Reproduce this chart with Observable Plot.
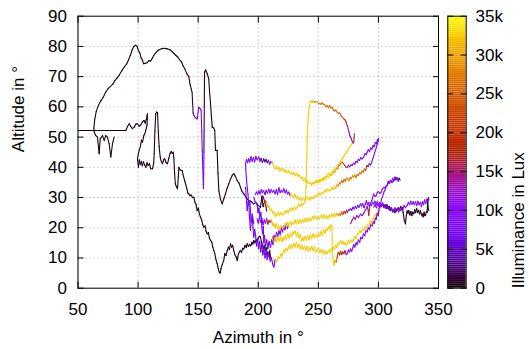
<!DOCTYPE html>
<html>
<head>
<meta charset="utf-8">
<script src="https://cdn.jsdelivr.net/npm/d3@7"></script>
<script src="https://cdn.jsdelivr.net/npm/@observablehq/plot@0.6"></script>
<style>
  html, body { margin: 0; padding: 0; background: white; }
  #chart { position: relative; width: 529px; height: 349px; }
  #chart svg { position: absolute; left: 0; top: 0; }
</style>
</head>
<body>
<div id="chart"></div>
<script>
// ---- tick labels ----
const xTicks = [50, 100, 150, 200, 250, 300, 350];
const yTicks = [0, 10, 20, 30, 40, 50, 60, 70, 80, 90];
const cbTicks = [0, 5000, 10000, 15000, 20000, 25000, 30000, 35000];
const xLabel = "Azimuth in °";
const yLabel = "Altitude in °";
const cbLabel = "Illuminance in Lux";

// ---- tracks: [azimuth, altitude, illuminance] ----
const trackArc = [
[80.1,50.0,400],[78.7,47.8,400],[77.3,43.4,400],[75.9,47.8,400],[74.5,50.0,400],[73.1,50.5,400],[71.8,48.9,400],[70.4,50.5,400],[68.5,49.4,400],[67.6,44.5,400],[66.2,50.0,400],[64.8,50.5,400],[63.5,51.6,400],[63.2,53.0,400],[64.0,56.0,400],[65.2,58.5,400],[67.0,60.5,400],[69.0,62.0,400],[71.0,63.2,400],[73.0,64.8,400],[75.0,66.0,400],[77.0,66.8,400],[79.0,67.5,400],[80.5,68.6,400],[82.6,69.6,400],[84.5,70.6,400],[86.5,72.0,400],[88.5,73.2,400],[90.5,74.2,400],[92.0,75.5,400],[93.5,77.0,400],[95.0,78.8,400],[96.4,80.0,400],[98.0,80.4,400],[99.2,80.0,400],[100.3,78.6,400],[101.5,77.8,400],[102.5,76.2,400],[103.6,75.5,400],[104.5,74.3,400],[106.0,74.4,400],[107.6,74.6,400],[109.0,75.3,400],[110.5,75.2,400],[111.7,76.0,400],[113.0,77.0,400],[114.5,77.8,400],[115.9,78.4,400],[117.5,78.9,400],[119.5,79.2,400],[121.5,79.4,400],[124.2,79.2,400],[126.5,78.9,400],[128.5,78.2,400],[130.0,77.6,400],[131.5,77.0,500],[133.0,76.5,500],[134.5,75.6,500],[136.0,75.0,500],[137.5,73.5,600],[139.0,72.5,700],[140.5,71.0,800],[142.2,70.0,900],[143.2,67.5,1000],[144.2,66.0,1200],[145.0,64.6,1500],[145.4,61.0,2000],[145.8,58.0,3000],[146.4,57.2,5000],[147.5,56.5,7000],[149.2,56.0,8000],[150.5,59.9,8000],[151.5,59.5,8000],[152.5,58.8,8000],[153.0,52.0,8000],[153.4,45.5,8000],[154.0,38.0,8000],[154.4,33.0,7500],[154.8,45.0,2000],[155.1,60.0,800],[155.3,71.5,500],[156.3,72.2,500],[157.5,71.0,500],[158.8,69.3,500],[159.5,65.0,500],[160.3,61.0,500],[161.0,57.0,500],[161.7,53.3,500],[163.0,53.0,500],[163.8,52.2,500],[164.4,45.6,500],[165.8,45.6,500],[166.5,38.0,500],[167.2,32.3,500],[168.5,29.5,500],[170.0,27.9,500],[171.3,29.5,500],[172.7,31.2,500],[174.0,33.0,500],[175.5,34.5,500],[176.8,36.0,500],[178.3,37.3,500],[179.7,37.9,500],[181.0,37.0,500],[182.5,35.6,500],[184.0,34.8,500],[185.2,33.4,500],[186.5,32.0,500],[188.0,31.2,500],[190.0,30.0,500],[192.1,29.0,500],[194.0,28.7,500],[196.3,27.9,500],[198.0,28.4,600],[199.5,27.5,700],[201.9,26.8,800],[203.0,30.5,1000],[204.0,27.0,1500],[205.5,29.0,1800],[207.0,25.5,2000]
];

const trackLow = [
[50.0,52.2,500],[89.8,52.2,500],[91.2,53.5,500],[92.6,54.4,500],[93.8,53.6,500],[95.2,52.8,500],[96.8,53.3,500],[98.2,54.3,500],[99.5,54.4,500],[100.8,53.6,500],[102.2,54.0,500],[103.5,55.0,500],[105.0,55.5,500],[106.0,54.6,500],[106.8,55.8,500],[107.8,57.7,500],[107.5,54.0,500],[106.4,52.2,500],[105.5,51.0,500],[104.8,50.6,500],[103.7,48.3,500],[102.8,49.0,500],[102.0,47.0,500],[100.9,45.6,500],[100.0,44.0,500],[99.5,42.8,500],[100.3,40.0,500],[101.0,42.5,500],[101.8,41.0,500],[102.8,42.0,500],[103.5,40.5,500],[104.5,41.8,500],[105.4,40.8,500],[106.4,40.0,500],[107.4,41.5,500],[108.4,40.6,500],[109.5,41.2,500],[110.5,39.5,500],[112.0,39.5,500],[113.0,41.5,500],[113.4,44.5,500],[114.0,52.0,500],[114.7,57.7,500],[115.5,58.3,500],[116.2,58.0,500],[116.8,52.0,500],[117.5,47.0,500],[118.4,43.4,500],[119.3,42.0,500],[120.3,41.2,500],[121.3,42.5,500],[122.2,42.8,500],[123.3,41.5,500],[124.5,41.2,500],[125.6,43.0,500],[126.5,44.5,500],[127.5,45.2,500],[128.5,44.6,500],[129.2,45.0,500],[129.7,43.4,500],[130.4,38.0,500],[131.0,34.5,500],[132.0,33.5,500],[132.8,32.9,500],[133.5,37.0,500],[133.9,40.0,500],[135.0,39.2,500],[136.7,38.9,500],[137.8,37.0,500],[139.0,35.2,500],[139.5,34.5,500],[140.5,33.0,500],[141.4,31.5,500],[142.2,31.2,500],[143.2,30.6,500],[144.2,30.8,500],[145.2,30.0,500],[146.4,30.1,500],[147.3,28.5,500],[148.2,27.8,500],[149.2,25.7,500],[150.2,26.5,500],[151.0,24.5,500],[152.0,23.5,500],[153.0,22.5,500],[153.8,21.0,500],[154.7,20.2,500],[155.8,20.6,500],[156.6,18.8,500],[157.5,18.0,500],[158.5,18.4,500],[159.4,16.5,500],[160.3,15.8,500],[161.3,15.3,500],[162.2,13.5,500],[163.0,12.5,500],[163.8,11.5,500],[164.8,9.5,500],[165.8,8.1,500],[166.7,6.5,500],[167.5,5.3,500],[168.3,5.0,500],[169.0,6.5,500],[170.0,7.8,500],[171.3,9.2,500],[172.2,11.5,500],[173.2,10.8,500],[174.2,12.5,500],[175.2,13.6,500],[176.0,12.8,500],[176.9,14.7,500],[177.8,13.6,500],[178.7,14.2,500],[179.6,12.5,500],[180.6,11.0,500],[181.5,10.5,500],[182.5,9.2,500],[183.4,11.2,500],[184.3,12.0,500],[185.2,12.5,500],[186.1,11.8,500],[187.0,13.2,500],[188.0,13.0,500],[189.0,14.2,500],[190.0,13.5,500],[190.8,14.7,500],[191.8,13.8,500],[192.8,14.5,500],[193.8,14.0,500],[194.8,15.2,500],[195.5,14.6,500],[196.3,15.8,500],[197.3,15.0,500],[198.2,16.0,600],[199.0,15.5,700],[200.0,16.5,800],[201.0,17.2,900],[201.9,16.9,1000],[202.8,15.0,1200],[203.5,14.5,1500],[204.3,13.0,1500],[205.0,14.2,1200],[205.8,12.5,1000],[206.5,13.5,1000],[207.3,11.0,1200],[208.0,12.0,1500],[209.0,10.5,2000],[209.5,12.5,2500],[210.3,10.2,3000],[211.0,9.7,3000]
];

const trackM7 = [
[189.4,33.4,8000],[190.0,30.0,8000],[190.8,25.7,8000],[191.4,28.5,8000],[192.1,29.0,8000],[192.6,24.0,8000],[193.5,19.1,8000],[194.2,22.0,8000],[195.0,23.5,8000],[195.6,20.0,8000],[196.3,16.9,8000],[197.0,19.5,7000],[197.8,17.5,7000],[198.6,14.0,7000],[199.5,16.5,6000],[200.3,13.0,6000],[201.2,15.5,5000],[202.0,12.0,5000],[203.0,14.5,6000],[203.8,11.0,7000],[204.8,13.0,8000],[205.6,10.0,8000],[206.5,12.5,8000],[207.4,9.5,8000],[208.2,11.0,8000]
];

const trackM8 = [
[196.3,30.1,7000],[197.5,28.5,7000],[199.0,27.9,7000],[199.8,25.0,7000],[200.6,26.5,7000],[201.4,23.5,7000],[202.2,25.0,8000],[203.0,20.0,8000],[203.6,18.0,8000],[204.2,20.5,8000],[204.6,15.0,8000],[205.2,17.5,8000],[206.0,14.0,7000],[207.0,16.0,6000],[208.0,13.0,5000],[209.0,15.5,6000],[210.2,13.5,8000],[211.2,16.0,8000],[212.2,14.5,9000],[213.2,17.5,9000],[214.2,16.0,9000],[215.2,18.5,9000],[216.2,17.0,9000],[217.2,19.0,9000],[218.2,17.8,9000],[219.2,20.0,9000],[220.2,18.6,9000],[221.3,20.6,9000],[222.3,19.4,9000],[223.3,21.2,9000],[224.3,19.8,9000],[225.3,21.0,9000]
];

const trackM3 = [
[197.5,31.0,9000],[198.5,31.8,9000],[199.5,31.0,9000],[200.5,32.2,9000],[201.5,31.2,9000],[202.5,32.6,9000],[203.5,31.6,9000],[204.5,32.3,9000],[205.6,31.0,9000],[206.6,32.4,9000],[207.6,31.4,9000],[208.7,32.8,9000],[209.8,31.5,9000],[210.8,32.6,9000],[211.9,31.8,9000],[213.0,32.3,9000],[214.0,31.2,9000],[215.0,32.6,9000],[216.0,31.0,9000],[217.2,33.2,9000],[218.2,31.6,9000],[219.2,32.4,9000],[220.3,31.8,9000],[221.3,32.9,9000],[222.4,31.5,9000],[223.4,32.5,9000],[224.4,31.2,9000],[225.4,31.8,8000],[226.5,30.6,32000],[227.5,31.4,32500],[228.6,30.2,32500],[229.6,30.1,32500],[230.7,31.0,32500],[231.8,29.6,32500],[232.8,30.4,32500],[234.0,29.2,32500],[235.2,30.0,32500],[236.4,29.0,32500],[237.6,29.8,32500],[238.8,29.2,32500],[240.0,30.2,32500],[241.2,29.4,32500],[242.4,30.0,32500],[243.5,29.2,32500],[244.6,30.2,32500],[245.8,29.6,32500],[247.0,30.6,32500],[248.0,30.2,32500],[249.0,30.7,32500],[250.2,31.6,32500],[251.4,30.8,32500],[252.5,31.6,32500],[253.6,31.2,32500],[254.6,31.8,32500],[255.8,32.6,32500],[256.8,31.8,32500],[257.8,32.8,32500],[259.0,32.2,32500],[260.0,32.3,32500],[261.2,33.4,32500],[262.3,32.6,32500],[263.4,33.6,32000],[264.5,33.0,31000],[265.5,34.2,30000],[266.5,33.8,28000],[267.5,34.8,27000],[268.4,34.5,26500],[269.4,35.6,26000],[270.4,35.0,26000],[271.4,36.0,26000],[272.4,35.4,26500],[273.4,36.4,27000],[274.4,36.2,27000],[275.4,35.6,27500],[276.4,36.6,28000],[277.4,36.2,28000],[278.4,37.2,28000],[279.4,36.8,27500],[280.4,37.4,27000],[281.4,36.6,26500],[282.4,37.6,26000],[283.4,37.4,26000],[284.4,38.2,26000],[285.4,37.9,26000],[286.4,38.8,26000],[287.4,38.4,25000],[288.4,39.4,24000],[289.4,39.0,22000],[290.4,40.6,16000],[291.4,40.2,11000],[292.4,41.2,9500],[293.4,40.8,9000],[294.4,41.6,9000],[295.2,42.8,9000],[296.0,43.6,9000],[296.8,44.8,9000],[297.6,45.6,9000],[298.4,46.8,9000],[299.2,47.8,9000],[300.0,49.0,9000]
];

const trackM1 = [
[196.3,21.3,8000],[195.0,24.5,8000],[194.0,22.0,8000],[193.5,26.0,8000],[193.0,29.0,8000],[192.0,27.5,8000],[191.5,31.0,8000],[190.8,33.4,8000],[190.2,36.0,8000],[189.6,39.5,8000],[189.4,41.2,8000],[190.3,42.6,8000],[191.2,41.5,8000],[192.1,42.8,8000],[193.0,41.8,8000],[194.0,43.5,8000],[195.0,42.0,8000],[196.0,43.2,8000],[197.0,41.8,8000],[198.0,43.6,8000],[199.1,42.5,8000],[200.5,43.4,7000],[201.5,42.0,6000],[202.5,43.0,5000],[203.5,41.6,4000],[204.6,42.8,3000],[205.5,41.8,3000],[206.5,42.6,3500],[207.5,41.5,6000],[208.5,42.3,7500],[209.5,41.0,8000],[210.2,41.7,8000],[211.6,41.7,32000],[212.5,40.8,32000],[213.5,39.6,32000],[214.3,39.5,32500],[215.3,40.4,32500],[216.2,39.2,32500],[217.2,40.0,32500],[218.2,38.8,32500],[219.2,39.6,32500],[220.3,38.9,32500],[221.3,39.5,32500],[222.4,38.3,32500],[223.4,39.0,32500],[224.5,38.2,32500],[225.5,38.9,32500],[226.6,37.8,32500],[227.6,38.4,32500],[228.6,37.6,32500],[229.7,38.3,32500],[230.8,37.2,32500],[232.0,38.0,32500],[233.0,37.0,32500],[234.0,37.6,32500],[235.2,36.4,32500],[236.5,36.8,32500],[237.5,35.6,32500],[238.6,36.2,32500],[239.6,35.0,32500],[240.8,35.6,32500],[242.0,34.6,32500],[243.2,35.0,32500],[244.3,34.2,32500],[245.5,35.0,32500],[246.7,34.6,32500],[247.8,35.4,32500],[249.0,35.0,32500],[250.2,35.8,32500],[251.4,35.2,32500],[252.6,36.0,32500],[253.8,35.6,32500],[255.0,36.5,32500],[256.2,36.0,32500],[257.4,37.0,32500],[258.6,36.6,32500],[259.8,37.8,32000],[261.0,37.4,32000],[262.2,38.6,31000],[263.3,38.2,30000],[264.3,38.9,29000],[265.2,39.8,28000],[266.2,39.5,27000],[267.0,40.6,26000],[268.0,40.8,25500],[269.0,41.6,25000],[269.9,41.7,24000],[271.0,41.2,22000],[272.0,40.6,20000],[273.0,40.0,18000],[274.0,40.0,14000],[275.0,40.6,11000],[276.0,40.2,10000],[277.2,40.8,9500],[278.2,40.6,9000],[279.3,41.4,9000],[280.3,41.0,9000],[281.3,41.9,9000],[282.3,41.7,9000],[283.3,42.6,9000],[284.3,42.3,9000],[285.3,43.2,9000],[286.3,42.8,9000],[287.8,43.4,9000],[288.8,44.5,9000],[289.8,44.2,9000],[290.6,45.0,9000],[291.6,45.8,9000],[292.6,45.2,9000],[293.6,46.4,9000],[294.6,46.0,9000],[295.5,47.2,9000],[296.5,46.8,9000],[297.4,48.2,9000],[298.3,47.8,9000],[299.2,49.2,9000],[300.0,48.6,9000],[300.3,49.6,9000]
];

const trackM4 = [
[199.0,23.0,8000],[200.0,21.5,8000],[201.0,23.5,8000],[202.0,21.8,8000],[203.0,23.2,8000],[204.0,21.0,8000],[205.0,22.6,8000],[206.0,21.5,12000],[207.0,23.0,15000],[208.0,21.2,15000],[209.0,22.4,15000],[210.0,21.8,20000],[211.0,22.6,31000],[212.0,20.8,32500],[213.0,21.3,32500],[214.0,20.0,32500],[215.0,21.4,32500],[216.0,19.6,32500],[217.0,20.6,32500],[218.0,19.4,32500],[219.1,20.8,32500],[220.2,19.8,32500],[221.3,20.2,32500],[222.4,21.6,32500],[223.4,20.4,32500],[224.4,21.8,32500],[225.5,20.6,32500],[226.5,22.0,32500],[227.6,20.8,32500],[228.6,21.8,32500],[229.6,21.3,32500],[230.6,22.6,32500],[231.6,21.2,32500],[232.7,22.8,32500],[233.8,21.4,32500],[234.8,22.6,32500],[235.8,21.6,32500],[236.9,22.8,32500],[237.9,21.8,32500],[239.0,23.0,32500],[240.0,22.0,32500],[241.0,23.4,32500],[242.1,22.2,32500],[243.1,23.2,32500],[244.2,22.4,32500],[245.2,23.6,32500],[246.2,23.0,32500],[247.3,24.0,32500],[248.4,22.8,32500],[249.5,23.8,32500],[250.6,22.9,32500],[251.8,23.5,32500],[252.8,24.4,32500],[253.8,23.2,32500],[254.8,24.2,32500],[256.0,23.0,32500],[257.0,24.0,32500],[258.0,23.0,32500],[259.0,24.2,32500],[260.1,23.5,32500],[261.2,24.6,32500],[262.3,23.6,32500],[263.4,24.8,32500],[264.4,23.8,32000],[265.4,24.8,31000],[266.4,24.0,29000],[267.4,24.6,27000],[268.4,24.1,25000],[269.4,25.2,24000],[270.4,24.4,22000],[271.4,25.4,20000],[272.4,24.8,19000],[273.4,25.6,17000],[274.2,25.1,12000],[275.2,26.0,10000],[276.0,25.8,9000],[276.8,26.3,9000],[277.8,25.8,9000],[278.8,26.8,9000],[279.8,26.2,9000],[280.8,27.0,9000],[281.8,26.4,9000],[282.8,27.4,9000],[283.8,26.8,9000],[285.0,27.9,9000],[286.0,27.2,9000],[287.0,28.0,9000],[288.0,26.6,9000],[289.0,27.6,9000],[290.0,29.0,9000],[290.8,27.6,9000],[291.6,28.4,9000],[292.4,27.0,9000],[293.3,28.2,9000],[294.3,27.4,9000],[295.2,28.4,9000],[296.1,27.9,9000],[297.1,28.8,9000],[298.0,27.6,9000],[299.0,28.6,9000],[300.0,27.8,9000],[301.0,28.4,8000],[301.7,27.9,7000],[302.6,27.0,5000],[303.5,27.6,3000],[304.5,26.8,1500],[305.5,27.6,800],[306.5,26.4,800],[307.5,27.5,800],[308.5,26.2,800],[309.3,27.0,800],[310.0,25.7,800],[311.0,26.5,800],[312.0,25.2,800],[312.8,26.0,800],[313.8,25.0,800],[314.8,26.2,800],[315.6,25.7,800],[316.5,26.6,800],[317.4,25.8,800],[318.4,27.0,800],[319.2,26.0,800],[319.8,26.8,800],[320.6,25.0,800],[321.5,22.5,800],[322.5,21.3,800],[323.2,24.0,800],[323.9,25.6,800],[324.6,24.8,800],[325.3,25.7,800],[326.2,24.2,800],[327.0,25.4,800],[327.8,24.0,800],[328.6,25.2,800],[329.4,24.6,800],[330.2,26.0,800],[331.0,25.0,800],[331.8,26.4,800],[332.6,25.0,800],[333.4,25.8,800],[334.2,24.6,800],[335.0,25.7,800],[335.8,24.2,800],[336.4,24.6,800],[337.2,23.6,800],[338.0,25.2,800],[338.6,24.0,800],[339.2,24.1,800],[340.0,25.4,800],[340.6,25.1,800],[341.0,29.4,800],[341.3,27.0,800],[341.7,26.0,800],[342.0,25.7,800]
];

const trackM11 = [
[296.1,26.8,9000],[297.2,27.6,9000],[298.3,26.6,9000],[299.4,27.8,9000],[300.5,27.0,9000],[301.6,28.0,9000],[302.6,27.2,9000],[303.6,28.2,9000],[304.5,27.4,9000],[305.5,26.6,9000],[306.5,27.6,9000],[307.5,26.4,9000],[308.5,27.0,9000],[309.5,25.8,9000],[310.5,26.6,9000],[311.6,25.4,9000],[312.8,25.7,9000],[313.8,26.6,9000],[314.8,25.4,9000],[315.8,26.2,9000],[316.8,25.2,9000],[317.6,26.0,9000],[318.4,25.7,9000],[319.4,26.8,9000],[320.4,26.2,9000],[321.4,27.4,9000],[322.5,26.6,9000],[323.9,27.4,9000],[324.9,28.4,9000],[325.9,27.6,9000],[326.9,28.8,9000],[327.9,27.8,9000],[329.0,28.6,9000],[329.9,27.6,9000],[330.9,28.6,9000],[331.9,27.4,9000],[332.9,28.8,9000],[333.9,27.6,9000],[335.0,28.4,9000],[335.8,27.0,9000],[336.6,28.6,9000],[337.5,27.6,9000],[338.4,29.2,9000],[339.4,28.0,9000],[340.2,29.4,8000],[341.0,28.6,6000],[341.6,30.0,4000],[342.0,29.2,3000]
];

const trackM6 = [
[209.0,10.5,6000],[210.0,9.0,8000],[211.0,10.0,8000],[212.0,8.0,8000],[213.0,7.0,8000],[214.0,9.5,30000],[215.0,8.6,32500],[215.7,9.2,32500],[216.8,10.6,32500],[217.8,9.8,32500],[218.9,11.4,32500],[219.9,10.6,32500],[221.0,12.6,32500],[222.0,11.8,32500],[223.1,13.2,32500],[224.2,12.4,32500],[225.3,14.0,32500],[226.3,13.0,32500],[227.4,14.4,32500],[228.5,13.2,32500],[229.6,14.8,32500],[230.7,13.6,32500],[231.8,15.0,32500],[232.9,13.4,32500],[234.0,14.6,32500],[235.1,13.0,32500],[236.2,14.2,32500],[237.3,12.8,32500],[238.4,14.0,32500],[239.5,12.6,32500],[240.6,13.8,32500],[241.7,12.2,32500],[242.8,13.4,32500],[243.5,12.5,32500],[244.6,13.8,32500],[245.7,12.4,32500],[246.8,13.6,32500],[247.9,12.0,32500],[249.0,12.5,32500],[250.1,13.4,32500],[251.2,11.8,32500],[252.3,12.8,32500],[253.4,11.4,32500],[254.5,12.6,32500],[255.6,11.2,32500],[256.6,12.2,32500],[257.4,11.4,32500],[258.4,12.6,32500],[259.4,11.8,32500],[260.4,13.0,32500],[261.4,12.4,32500],[262.4,13.6,32500],[263.4,12.8,32500],[264.4,14.2,32500],[265.4,13.4,32500],[266.4,15.0,32500],[267.4,14.6,32500],[268.4,15.8,32500],[269.4,14.8,32500],[270.4,15.6,32500],[271.4,14.4,32500],[272.4,15.2,32500],[273.2,14.2,32500],[274.0,14.7,32500],[275.0,15.8,32500],[276.0,14.8,32500],[277.0,16.0,32500],[278.0,15.2,32500],[279.0,16.2,32500],[279.5,15.8,32500],[280.5,17.2,32500],[281.5,16.4,32500],[282.6,18.2,32500],[283.6,18.0,32500],[284.6,19.2,32500],[285.6,18.4,32500],[286.7,19.6,32500],[287.8,19.1,32500],[288.8,20.4,32500],[289.8,19.6,32500],[290.9,21.0,32500],[292.0,20.7,32500],[293.0,22.2,32500],[294.0,21.4,32500],[295.0,23.0,32500],[296.0,23.0,32500],[297.0,24.4,32500],[298.0,23.8,32500],[299.0,24.6,32500],[299.8,25.8,32500],[300.6,25.4,32500],[301.7,26.8,32500]
];

const trackM5 = [
[212.0,17.0,20000],[213.0,15.5,32000],[214.2,16.8,32500],[215.3,15.2,32500],[216.4,17.0,32500],[217.5,15.6,32500],[218.6,17.4,32500],[219.7,15.4,32500],[220.7,16.6,32500],[221.3,15.8,32500],[222.4,17.4,32500],[223.5,16.2,32500],[224.6,18.0,32500],[225.7,16.6,32500],[226.8,18.2,32500],[227.9,17.0,32500],[228.9,18.6,32500],[229.6,18.0,32500],[230.7,19.0,32500],[231.8,17.2,32500],[232.9,18.4,32500],[234.0,16.6,32500],[235.1,17.8,32500],[236.2,15.6,32500],[237.2,16.8,32500],[237.9,15.8,32500],[239.0,17.2,32500],[240.1,15.8,32500],[241.2,17.4,32500],[242.3,16.0,32500],[243.4,17.6,32500],[244.5,16.4,32500],[245.6,18.0,32500],[246.7,16.6,32500],[247.8,17.6,32500],[249.0,16.9,32500],[250.1,18.4,32500],[251.2,17.2,32500],[252.3,18.8,32500],[253.4,17.6,32500],[254.5,19.4,32500],[255.6,18.2,32500],[256.6,19.6,32500],[257.4,19.1,32500],[258.5,20.4,32500],[259.5,19.4,32500],[260.5,21.0,32500],[261.3,20.6,32500],[261.5,16.0,32500],[261.7,11.4,32500],[262.3,9.0,32500],[262.9,7.5,32000],[263.8,9.2,30000],[264.8,8.6,25000],[265.7,10.2,20000],[266.4,11.6,19000],[267.0,11.9,19000],[267.8,11.0,19000],[268.6,12.2,19000],[269.5,11.2,18000],[270.4,12.0,18000],[271.2,11.4,16000],[272.2,12.4,15000],[273.2,11.2,12000],[274.0,11.4,10000],[275.0,12.6,9000],[276.0,12.0,9000],[276.8,13.0,9000],[277.8,12.2,9000],[278.6,13.4,9000],[279.5,14.4,9000],[280.4,13.6,9000],[281.4,15.0,9000],[282.3,14.4,9000],[283.3,16.0,9000],[284.4,15.2,9000],[285.4,16.8,9000],[286.5,16.4,9000],[287.5,18.0,9000],[288.6,17.4,9000],[289.6,19.0,9000],[290.6,18.6,9000],[291.6,20.0,9000],[292.6,19.4,9000],[293.6,21.0,9000],[294.8,20.6,9000],[295.8,22.0,9000],[296.6,21.4,9000],[297.4,23.2,9000],[298.2,22.8,9000],[299.0,24.8,9000],[299.8,24.0,9000],[300.6,26.6,9000],[301.7,27.0,9000],[302.6,29.6,9000],[303.5,30.2,9000],[304.5,31.8,9000],[305.5,32.4,9000],[306.4,33.8,9000],[307.3,34.0,9000],[308.2,35.4,9000],[309.1,34.6,9000],[310.0,35.6,9000],[310.9,35.0,9000],[311.8,36.4,9000],[312.8,35.6,9000],[313.7,36.8,8000],[314.6,35.8,7000],[315.6,36.6,5000],[316.5,35.4,3000],[317.3,36.4,1500],[318.0,35.8,1000]
];

const trackM9 = [
[276.8,21.3,9000],[278.0,22.4,12000],[279.5,23.5,19000],[280.6,22.8,12000],[282.0,24.0,9500],[283.4,23.4,9000],[285.0,24.5,9000],[286.4,24.0,9000],[288.0,25.0,9000],[289.4,26.0,9000],[290.6,27.0,15000],[291.4,26.0,19000],[292.0,24.1,19000],[292.6,26.4,12000],[293.3,28.0,9000],[294.5,29.0,9000],[296.0,31.2,9000],[297.0,30.4,9000],[298.0,30.5,9000],[299.0,31.6,9000],[300.0,32.0,9000],[301.0,31.4,9000],[302.0,31.5,9000],[303.2,32.8,9000],[304.5,33.4,9000],[305.8,33.0,9000],[307.0,34.0,9000],[308.5,34.8,9000],[310.0,35.6,9000],[311.4,35.0,9000],[312.8,35.5,8000],[314.2,36.6,7000],[315.6,36.2,5000]
];

const trackM2 = [
[203.8,30.5,2000],[204.8,29.4,20000],[205.8,27.9,27000],[206.8,28.6,30000],[207.8,26.8,32000],[208.8,27.2,32500],[210.0,25.7,32500],[211.0,26.3,32500],[212.0,24.8,32500],[213.0,25.3,32500],[214.0,23.8,32500],[215.0,24.6,32500],[215.7,24.1,32500],[216.8,25.2,32500],[217.8,24.0,32500],[218.8,25.0,32500],[220.0,24.2,32500],[221.0,24.6,32500],[222.0,25.6,32500],[223.0,24.8,32500],[224.0,25.8,32500],[225.0,25.0,32500],[226.0,26.2,32500],[226.8,25.7,32500],[228.0,26.6,32500],[229.0,25.8,32500],[230.2,26.8,32500],[231.3,26.1,32500],[232.4,26.8,32500],[233.5,27.8,32500],[234.6,27.0,32500],[235.7,28.0,32500],[236.8,27.4,32500],[237.9,27.9,32500],[238.6,28.6,32500],[239.3,29.0,32500],[239.5,31.5,32500],[239.8,33.5,32500],[240.0,36.0,32500],[240.2,37.9,32500],[240.1,40.5,32500],[240.4,43.0,32500],[240.5,45.5,32500],[240.7,48.9,32500],[240.9,51.5,32500],[241.3,54.0,32500],[241.6,56.5,32500],[242.0,58.8,32500],[242.6,60.5,32500],[243.5,62.1,32000],[244.6,61.6,30000],[245.6,61.9,29000],[246.6,61.5,28500],[247.8,61.7,28000],[249.0,61.6,28000],[250.2,61.0,28000],[251.2,61.2,27500],[252.2,60.8,27500],[253.2,61.3,27500],[254.2,60.9,27000],[255.4,60.7,27000],[256.4,60.0,27000],[257.4,60.5,27000],[258.4,59.8,26500],[259.5,60.4,26500],[260.5,59.6,26500],[261.5,59.9,26000],[262.5,59.0,26000],[263.5,58.6,26000],[264.6,59.0,26000],[265.7,58.2,25500],[266.8,57.8,25500],[267.8,58.0,25000],[268.8,57.2,25000],[269.8,56.6,24500],[271.2,56.0,23000],[272.0,55.8,20000],[272.8,55.2,17000],[273.5,54.4,15500],[274.3,53.5,14000],[275.0,52.4,13000],[275.6,51.6,12000],[276.2,50.4,10000],[276.8,50.0,9500],[277.5,49.4,9000],[278.2,48.6,9000],[278.9,48.0,9000],[279.5,48.3,19000],[279.8,50.0,20000],[280.0,51.2,20000]
];

const trackM2b = [
[244.0,34.0,32500],[245.2,34.8,32500],[246.5,34.4,32500],[247.7,35.6,32500],[249.0,35.6,32500],[250.3,35.0,32500],[251.5,36.0,32500],[252.7,35.6,32500],[254.0,36.6,32500],[254.6,36.2,32500],[255.8,37.2,32500],[257.0,36.8,32500],[258.2,38.0,32500],[259.2,37.4,32500],[260.0,37.3,32500],[261.0,38.4,32500],[262.0,38.0,32500],[262.9,39.2,32500],[264.0,39.0,32500],[264.8,40.0,32500],[265.7,40.0,32500],[266.7,41.0,32500],[267.6,41.2,32500],[268.6,42.2,32500],[269.5,42.6,32500],[270.4,43.2,32500],[271.2,43.6,32500],[272.0,44.5,32500],[273.0,44.6,32500],[274.0,45.4,32500],[275.0,45.8,32500],[275.9,46.8,32500],[276.8,47.0,32500],[277.6,47.6,32500],[278.2,47.8,31000],[278.9,48.0,15000]
];

// drawing order
const tracks = [trackArc, trackLow, trackM7, trackM8, trackM3, trackM1, trackM4, trackM11, trackM6, trackM5, trackM9, trackM2, trackM2b];

// segments (each coloured by its starting sample)
const segments = tracks.flatMap((t, k) => d3.pairs(t).map(([a, b]) => ({
  track: k, x1: a[0], y1: a[1], x2: b[0], y2: b[1], lux: a[2]
})));

// gnuplot default pm3d palette (rgbformulae 7,5,15)
function gp(t) {
  t = Math.max(0, Math.min(1, t));
  const r = Math.sqrt(t), g = t * t * t, b = Math.max(0, Math.sin(2 * Math.PI * t));
  return `rgb(${Math.round(255 * r)},${Math.round(255 * g)},${Math.round(255 * b)})`;
}
const colorScale = {type: "linear", domain: [0, 35000], interpolate: gp};
const font = "'Liberation Sans', Arial, Helvetica, sans-serif";
const FS = 17;
const W = 529, H = 349;
const M = {top: 15.7, bottom: 61.3};

const main = Plot.plot({
  width: W, height: H,
  marginLeft: 77.5, marginRight: 91, marginTop: M.top, marginBottom: M.bottom,
  style: {fontFamily: font, fontSize: FS + "px", background: "transparent", color: "black", overflow: "visible"},
  x: {domain: [50, 350]},
  y: {domain: [0, 90]},
  color: colorScale,
  marks: [
    Plot.gridX(xTicks, {stroke: "#a8a8a8", strokeOpacity: 1, strokeDasharray: "1,3"}),
    Plot.gridY(yTicks, {stroke: "#a8a8a8", strokeOpacity: 1, strokeDasharray: "1,3"}),
    Plot.link(segments, {x1: "x1", y1: "y1", x2: "x2", y2: "y2", stroke: "lux", strokeWidth: 1.1, strokeLinecap: "round"}),
    Plot.frame({stroke: "black", strokeWidth: 1}),
    Plot.axisX(xTicks, {anchor: "bottom", tickSize: -6, tickPadding: 20.5, label: null, fontSize: FS}),
    Plot.axisX(xTicks, {anchor: "top", tickSize: -6, tickFormat: () => "", label: null}),
    Plot.axisY(yTicks, {anchor: "left", tickSize: -6, tickPadding: 17, label: null, fontSize: FS}),
    Plot.axisY(yTicks, {anchor: "right", tickSize: -6, tickFormat: () => "", label: null}),
    Plot.text([xLabel], {frameAnchor: "bottom", dy: 49.5, text: d => d, fontSize: FS, lineAnchor: "middle"}),
    Plot.text([yLabel], {frameAnchor: "left", dx: -59, text: d => d, fontSize: FS, rotate: -90, lineAnchor: "middle"})
  ]
});

const step = 250;
const stops = d3.range(0, 35000, step);
const cbar = Plot.plot({
  width: W, height: H,
  marginLeft: 447.3, marginRight: 63.3, marginTop: M.top, marginBottom: M.bottom,
  style: {fontFamily: font, fontSize: FS + "px", background: "transparent", color: "black", overflow: "visible"},
  x: {domain: [0, 1], axis: null},
  y: {domain: [0, 35000]},
  color: colorScale,
  marks: [
    Plot.rect(stops, {x1: 0, x2: 1, y1: d => d, y2: d => d + step, fill: d => d + step / 2}),
    Plot.frame({stroke: "black", strokeWidth: 1}),
    Plot.axisY(cbTicks, {anchor: "right", tickSize: -6, tickPadding: 15.3, label: null, fontSize: FS,
      tickFormat: d => d === 0 ? "0" : `${d / 1000}k`}),
    Plot.axisY(cbTicks, {anchor: "left", tickSize: -6, tickFormat: () => "", label: null}),
    Plot.text([cbLabel], {frameAnchor: "right", dx: 52.3, text: d => d, fontSize: FS, rotate: -90, lineAnchor: "middle"})
  ]
});

const chart = document.getElementById("chart");
const bg = document.createElement("div");
bg.style.cssText = "position:absolute;left:0;top:0;width:529px;height:349px;background:white";
chart.appendChild(bg);
chart.appendChild(main);
chart.appendChild(cbar);
</script>
</body>
</html>
